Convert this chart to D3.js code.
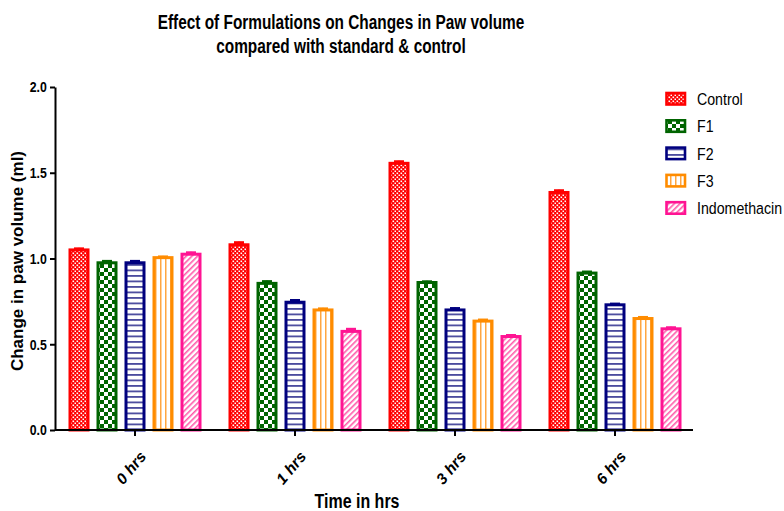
<!DOCTYPE html>
<html>
<head>
<meta charset="utf-8">
<script src="https://cdn.jsdelivr.net/npm/d3@7"></script>
<style>
  html, body { margin: 0; padding: 0; background: #fff; }
  svg { display: block; }
</style>
</head>
<body>
<svg id="chart" width="784" height="511"></svg>
<script>
// ---- data ----
const timepoints = ["0 hrs", "1 hrs", "3 hrs", "6 hrs"];
const seriesNames = ["Control", "F1", "F2", "F3", "Indomethacin"];
const controlValues = [1.05, 1.08, 1.555, 1.385];
const f1Values      = [0.975, 0.855, 0.86, 0.915];
const f2Values      = [0.975, 0.745, 0.70, 0.73];
const f3Values      = [1.005, 0.70, 0.635, 0.65];
const indoValues    = [1.025, 0.575, 0.545, 0.59];
const controlErr = [0.012, 0.018, 0.015, 0.016];
const f1Err      = [0.014, 0.016, 0.010, 0.012];
const f2Err      = [0.014, 0.016, 0.014, 0.010];
const f3Err      = [0.010, 0.012, 0.012, 0.012];
const indoErr    = [0.014, 0.018, 0.012, 0.012];
const yTicks = [0, 0.5, 1.0, 1.5, 2.0];

const values = [controlValues, f1Values, f2Values, f3Values, indoValues];
const errs = [controlErr, f1Err, f2Err, f3Err, indoErr];
const colors = ["#ff0000", "#006400", "#00007f", "#ff8c00", "#ff1493"];

const svg = d3.select("#chart");
const defs = svg.append("defs");
const sans = "'Liberation Sans', Arial, sans-serif";

// ---- patterns ----
function pat(id, w, h, bg) {
  const p = defs.append("pattern").attr("id", id).attr("patternUnits", "userSpaceOnUse")
    .attr("width", w).attr("height", h);
  p.append("rect").attr("width", w).attr("height", h).attr("fill", bg);
  return p;
}
// Control: fine red/white checker
let p0 = pat("p0", 4, 4, "#ff0000");
p0.append("rect").attr("x", 0.5).attr("y", 0.5).attr("width", 1.6).attr("height", 1.6).attr("fill", "#fff");
p0.append("rect").attr("x", 2.5).attr("y", 2.5).attr("width", 1.6).attr("height", 1.6).attr("fill", "#fff");
// F1: green/white checkerboard
let p1 = pat("p1", 8, 8, "#006400");
p1.append("rect").attr("x", 0).attr("y", 0).attr("width", 4).attr("height", 4).attr("fill", "#fff");
p1.append("rect").attr("x", 4).attr("y", 4).attr("width", 4).attr("height", 4).attr("fill", "#fff");
// F2: horizontal navy lines
let p2 = pat("p2", 5, 5.5, "#fff");
p2.append("rect").attr("x", 0).attr("y", 0).attr("width", 5).attr("height", 1.8).attr("fill", "#4b4b9e");
// F3: vertical orange lines
let p3 = pat("p3", 5, 5, "#fff");
p3.append("rect").attr("x", 0).attr("y", 0).attr("width", 1.5).attr("height", 5).attr("fill", "#ffa640");
// Indomethacin: diagonal pink hatch
let p4 = defs.append("pattern").attr("id", "p4").attr("patternUnits", "userSpaceOnUse")
  .attr("width", 4).attr("height", 4).attr("patternTransform", "rotate(45)");
p4.append("rect").attr("width", 4).attr("height", 4).attr("fill", "#fff");
p4.append("rect").attr("x", 0).attr("y", 0).attr("width", 1.6).attr("height", 4).attr("fill", "#ff5aaa");

// ---- scales ----
const x0 = d3.scaleBand().domain(timepoints).range([55, 695]).paddingInner(0).paddingOuter(0);
const x1 = d3.scaleBand().domain(seriesNames).range([10, 150]).paddingInner(0.25).paddingOuter(0.125);
const y = d3.scaleLinear().domain([0, 2]).range([430, 87]);

// ---- bars ----
const sw = 3;
seriesNames.forEach((s, si) => {
  const g = svg.append("g");
  timepoints.forEach((t, ti) => {
    const v = values[si][ti];
    const bx = x0(t) + x1(s);
    g.append("rect")
      .attr("x", bx + sw / 2).attr("y", y(v))
      .attr("width", x1.bandwidth() - sw).attr("height", y(0) - y(v))
      .attr("fill", `url(#p${si})`).attr("stroke", colors[si]).attr("stroke-width", sw);
    const cx = bx + x1.bandwidth() / 2;
    const e = errs[si][ti];
    g.append("line").attr("x1", cx).attr("x2", cx).attr("y1", y(v)).attr("y2", y(v + e))
      .attr("stroke", colors[si]).attr("stroke-width", 2.5);
    g.append("line").attr("x1", cx - 5).attr("x2", cx + 5).attr("y1", y(v + e) + 1).attr("y2", y(v + e) + 1)
      .attr("stroke", colors[si]).attr("stroke-width", 3);
  });
});

// ---- axes ----
const yAxis = svg.append("g").attr("transform", "translate(55,0)")
  .call(d3.axisLeft(y).tickValues(yTicks).tickFormat(d3.format(".1f")).tickSize(5).tickSizeOuter(0));
yAxis.select(".domain").attr("stroke", "#000").attr("stroke-width", 2);
yAxis.selectAll(".tick line").attr("stroke", "#000").attr("stroke-width", 2);
yAxis.selectAll(".tick text").attr("font-family", sans).attr("font-weight", "bold")
  .attr("font-size", 15).attr("fill", "#000").attr("x", -8.2 / 0.82)
  .attr("transform", "scale(0.82,1)");

const xAxis = svg.append("g").attr("transform", "translate(0,430)")
  .call(d3.axisBottom(x0).tickSize(6).tickSizeOuter(0));
xAxis.select(".domain").attr("stroke", "#000").attr("stroke-width", 2).attr("d", "M55,0H693");
xAxis.selectAll(".tick line").attr("stroke", "#000").attr("stroke-width", 2);
xAxis.selectAll(".tick text").attr("font-family", sans).attr("font-weight", "bold")
  .attr("font-style", "italic").attr("font-size", 15.5).attr("fill", "#000")
  .attr("text-anchor", "end").attr("dy", null).attr("y", 0).attr("x", 0)
  .attr("transform", "translate(12,27) rotate(-50)");

// ---- titles ----
svg.append("text").attr("transform", "translate(341,29) scale(0.77,1)").attr("text-anchor", "middle")
  .attr("font-family", sans).attr("font-weight", "bold").attr("font-size", 20)
  .text("Effect of Formulations on Changes in Paw volume");
svg.append("text").attr("transform", "translate(341,53) scale(0.77,1)").attr("text-anchor", "middle")
  .attr("font-family", sans).attr("font-weight", "bold").attr("font-size", 20)
  .text("compared with standard & control");
svg.append("text").attr("transform", "translate(357,508) scale(0.82,1)").attr("text-anchor", "middle")
  .attr("font-family", sans).attr("font-weight", "bold").attr("font-size", 19.5)
  .text("Time in hrs");
svg.append("text").attr("transform", "translate(23,261) rotate(-90)").attr("text-anchor", "middle")
  .attr("font-family", sans).attr("font-weight", "bold").attr("font-size", 17)
  .text("Change in paw volume (ml)");

// ---- legend ----
const legend = svg.append("g");
seriesNames.forEach((s, si) => {
  const ly = 99 + si * 27.3;
  legend.append("rect").attr("x", 666.5).attr("y", ly - 6).attr("width", 18.5).attr("height", 11.5)
    .attr("fill", `url(#p${si})`).attr("stroke", colors[si]).attr("stroke-width", 2.6);
  legend.append("text").attr("transform", `translate(697,${ly + 6}) scale(0.86,1)`)
    .attr("font-family", sans).attr("font-size", 16.5).attr("fill", "#000").text(s);
});
</script>
</body>
</html>
